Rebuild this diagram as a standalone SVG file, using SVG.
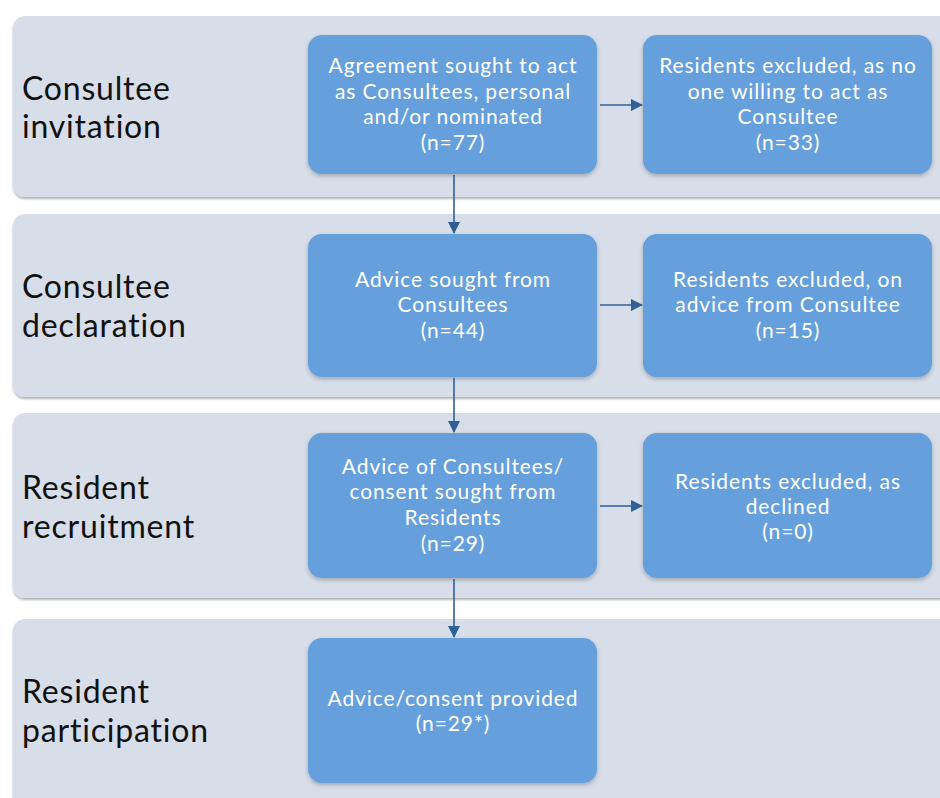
<svg xmlns="http://www.w3.org/2000/svg" width="940" height="798" viewBox="0 0 940 798">
<defs>
<style>
.band{fill:#d7deea;filter:url(#bs)}
.box{fill:#659fdc;filter:url(#xs)}
.lab{font-family:Lato,"Open Sans",sans-serif;font-size:32px;letter-spacing:0.8px;fill:#111}
.t{font-family:Lato,"Open Sans",sans-serif;font-size:21px;letter-spacing:0.9px;fill:#fff;text-anchor:middle}
.c{stroke:#2f5f95;stroke-width:1.6;fill:none;marker-end:url(#ah)}
</style>
<filter id="bs" x="-5%" y="-5%" width="110%" height="115%"><feDropShadow dx="0" dy="2" stdDeviation="1.2" flood-color="#000" flood-opacity="0.3"/></filter>
<filter id="xs" x="-5%" y="-5%" width="110%" height="115%"><feDropShadow dx="0" dy="2" stdDeviation="2" flood-color="#000" flood-opacity="0.25"/></filter>
<marker id="ah" markerWidth="12" markerHeight="12" refX="11" refY="6" orient="auto" markerUnits="userSpaceOnUse"><path d="M0,0 L12,6 L0,12 Z" fill="#2f5f95"/></marker>
</defs>
<rect width="940" height="798" fill="#fff"/>
<g id="band1"><rect class="band" x="13" y="16" width="960" height="181" rx="12"/><text class="lab" x="22" y="100">Consultee</text><text class="lab" x="22" y="138">invitation</text></g>
<g id="band2"><rect class="band" x="13" y="214" width="960" height="183" rx="12"/><text class="lab" x="22" y="298">Consultee</text><text class="lab" x="22" y="337">declaration</text></g>
<g id="band3"><rect class="band" x="13" y="413" width="960" height="185" rx="12"/><text class="lab" x="22" y="499">Resident</text><text class="lab" x="22" y="538">recruitment</text></g>
<g id="band4"><rect class="band" x="13" y="619" width="960" height="200" rx="12"/><text class="lab" x="22" y="703">Resident</text><text class="lab" x="22" y="742">participation</text></g>
<g id="n1"><rect class="box" x="308" y="35" width="289" height="139" rx="14"/><text class="t" x="453" y="73">Agreement sought to act</text><text class="t" x="453" y="99">as Consultees, personal</text><text class="t" x="453" y="124">and/or nominated</text><text class="t" x="453" y="150">(n=77)</text></g>
<g id="n2"><rect class="box" x="643" y="35" width="289" height="139" rx="14"/><text class="t" x="788" y="73">Residents excluded, as no</text><text class="t" x="788" y="99">one willing to act as</text><text class="t" x="788" y="124">Consultee</text><text class="t" x="788" y="150">(n=33)</text></g>
<g id="n3"><rect class="box" x="308" y="234" width="289" height="143" rx="14"/><text class="t" x="453" y="287">Advice sought from</text><text class="t" x="453" y="312">Consultees</text><text class="t" x="453" y="338">(n=44)</text></g>
<g id="n4"><rect class="box" x="643" y="234" width="289" height="143" rx="14"/><text class="t" x="788" y="287">Residents excluded, on</text><text class="t" x="788" y="312">advice from Consultee</text><text class="t" x="788" y="338">(n=15)</text></g>
<g id="n5"><rect class="box" x="308" y="433" width="289" height="145" rx="14"/><text class="t" x="453" y="474">Advice of Consultees/</text><text class="t" x="453" y="499">consent sought from</text><text class="t" x="453" y="525">Residents</text><text class="t" x="453" y="551">(n=29)</text></g>
<g id="n6"><rect class="box" x="643" y="433" width="289" height="145" rx="14"/><text class="t" x="788" y="489">Residents excluded, as</text><text class="t" x="788" y="514">declined</text><text class="t" x="788" y="539">(n=0)</text></g>
<g id="n7"><rect class="box" x="308" y="638" width="289" height="145" rx="14"/><text class="t" x="453" y="706">Advice/consent provided</text><text class="t" x="453" y="731">(n=29*)</text></g>
<g id="connectors">
<path class="c" d="M454,175 V233"/>
<path class="c" d="M454,378 V432"/>
<path class="c" d="M454,579 V637"/>
<path class="c" d="M600,105 H642"/>
<path class="c" d="M600,305 H642"/>
<path class="c" d="M600,506 H642"/>
</g>
</svg>
